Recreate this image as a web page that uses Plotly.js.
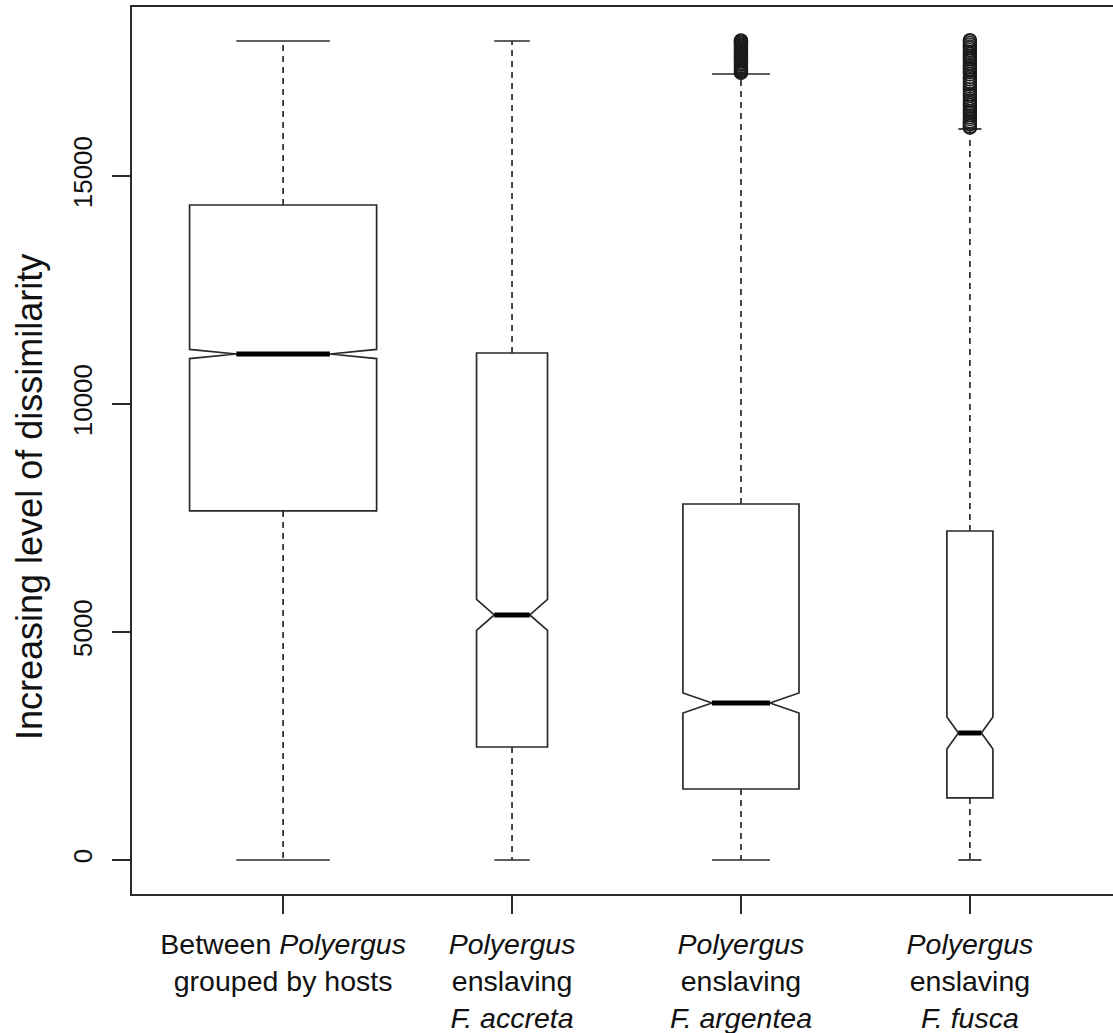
<!DOCTYPE html>
<html>
<head>
<meta charset="utf-8">
<script src="https://cdn.plot.ly/plotly-3.0.1.min.js"></script>
<style>
  html, body { margin: 0; padding: 0; overflow: hidden; background: #fff; }
</style>
</head>
<body>
<div id="chart"></div>
<script>
// Group labels (italic species names)
const categories = [
  'Between <i>Polyergus</i><br>grouped by hosts',
  '<i>Polyergus</i><br>enslaving<br><i>F. accreta</i>',
  '<i>Polyergus</i><br>enslaving<br><i>F. argentea</i>',
  '<i>Polyergus</i><br>enslaving<br><i>F. fusca</i>'
];

// Box statistics per group
const lowerWhisker = [0, 0, 0, 0];
const q1           = [7654, 2478, 1557, 1360];
const median       = [11096, 5373, 3443, 2785];
const q3           = [14364, 11118, 7807, 7215];
const upperWhisker = [17960, 17960, 17237, 16031];
const notchHalfSpan = [100, 340, 220, 350];

// Points beyond the upper whisker
const outliersAccretaGroup = [];
const outliersHostsGroup = [];
const outliersArgentea = [
  17260, 17285, 17300, 17320, 17345, 17370, 17390, 17410, 17440, 17460,
  17480, 17510, 17530, 17555, 17580, 17600, 17625, 17650, 17670, 17700,
  17720, 17745, 17770, 17790, 17815, 17840, 17860, 17885, 17910, 17930,
  17955, 17975
];
const outliersFusca = [
  16060, 16090, 16130, 16170, 16200, 16250, 16290, 16330, 16380, 16420,
  16470, 16520, 16560, 16600, 16650, 16700, 16760, 16800, 16850, 16900,
  16960, 17010, 17060, 17120, 17170, 17230, 17280, 17320, 17350, 17380,
  17420, 17470, 17520, 17560, 17600, 17640, 17680, 17720, 17760, 17800,
  17840, 17880, 17920, 17960, 17980
];
const outliers = [outliersHostsGroup, outliersAccretaGroup, outliersArgentea, outliersFusca];

const yTickValues = [0, 5000, 10000, 15000];
const yTitle = 'Increasing level of dissimilarity';

// Styling
const INK = '#2a2a2a';
const TEXT = '#111';
const FONT = 'Liberation Sans, Arial, Helvetica, sans-serif';
const LINE_W = 1.7;
const boxWidths = [0.817, 0.31, 0.507, 0.201]; // proportional to group size

const traces = [];
categories.forEach((cat, i) => {
  const pos = i + 1;
  const w = boxWidths[i];
  const capHalf = w / 4;

  // Notched box body
  traces.push({
    type: 'box',
    x: [pos],
    q1: [q1[i]],
    median: [median[i]],
    q3: [q3[i]],
    lowerfence: [q1[i]],
    upperfence: [q3[i]],
    notched: true,
    notchspan: [notchHalfSpan[i]],
    notchwidth: 0.25,
    width: w,
    whiskerwidth: 0,
    boxpoints: false,
    fillcolor: 'rgba(0,0,0,0)',
    line: { color: INK, width: LINE_W },
    hoverinfo: 'skip',
    showlegend: false
  });

  // Dashed whiskers
  traces.push({
    type: 'scatter', mode: 'lines',
    x: [pos, pos, null, pos, pos],
    y: [q3[i], upperWhisker[i], null, q1[i], lowerWhisker[i]],
    line: { color: INK, width: LINE_W, dash: '6px,5px' },
    hoverinfo: 'skip', showlegend: false
  });

  // Whisker caps
  traces.push({
    type: 'scatter', mode: 'lines',
    x: [pos - capHalf, pos + capHalf, null, pos - capHalf, pos + capHalf],
    y: [upperWhisker[i], upperWhisker[i], null, lowerWhisker[i], lowerWhisker[i]],
    line: { color: INK, width: LINE_W },
    hoverinfo: 'skip', showlegend: false
  });

  // Heavy median bar
  traces.push({
    type: 'scatter', mode: 'lines',
    x: [pos - w / 4, pos + w / 4],
    y: [median[i], median[i]],
    line: { color: '#000', width: 5 },
    hoverinfo: 'skip', showlegend: false
  });

  // Outlying points
  if (outliers[i].length) {
    traces.push({
      type: 'scatter', mode: 'markers',
      x: outliers[i].map(() => pos),
      y: outliers[i],
      marker: { symbol: 'circle-open', size: 13, color: '#1a1a1a', line: { width: 1.4 } },
      hoverinfo: 'y', showlegend: false
    });
  }
});

const layout = {
  width: 1125,
  height: 1033,
  margin: { l: 132, r: 4, t: 7, b: 139 },
  paper_bgcolor: '#fff',
  plot_bgcolor: '#fff',
  showlegend: false,
  xaxis: {
    range: [0.34, 4.66],
    tickmode: 'array',
    tickvals: categories.map((c, i) => i + 1),
    ticktext: categories,
    ticks: 'outside', ticklen: 18, tickwidth: LINE_W, tickcolor: INK,
    ticklabelstandoff: 6,
    showline: true, mirror: true, linecolor: INK, linewidth: LINE_W,
    showgrid: false, zeroline: false,
    tickfont: { family: FONT, size: 28.5, color: TEXT }
  },
  yaxis: {
    range: [-746, 18706],
    tickmode: 'array',
    tickvals: yTickValues,
    ticktext: yTickValues.map(String),
    tickangle: -90,
    ticks: 'outside', ticklen: 18, tickwidth: LINE_W, tickcolor: INK,
    ticklabelstandoff: 10,
    showline: true, mirror: true, linecolor: INK, linewidth: LINE_W,
    showgrid: false, zeroline: false,
    tickfont: { family: FONT, size: 26, color: TEXT }
  },
  // Vertical axis label, set slightly below the panel's middle
  annotations: [{
    text: yTitle,
    xref: 'paper', yref: 'paper',
    x: -0.1031, y: 0.4476,
    xanchor: 'center', yanchor: 'middle',
    textangle: -90,
    showarrow: false,
    font: { family: FONT, size: 36, color: TEXT }
  }]
};

Plotly.newPlot('chart', traces, layout, { displayModeBar: false, staticPlot: true });
</script>
</body>
</html>
